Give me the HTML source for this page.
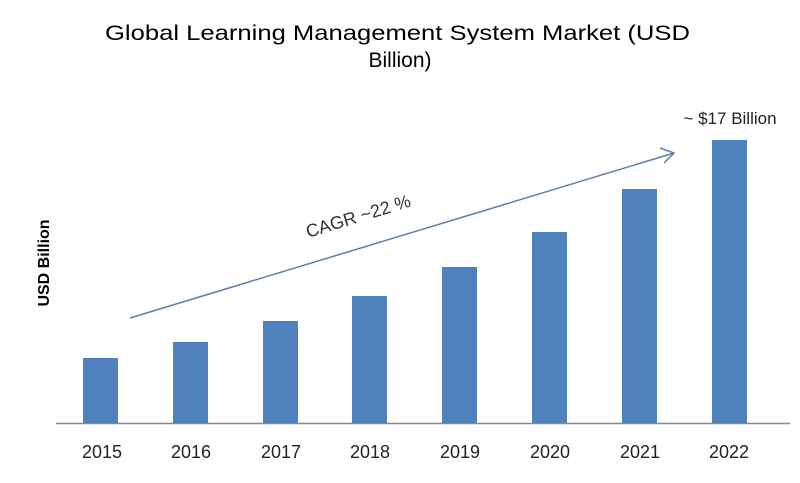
<!DOCTYPE html>
<html><head><style>body{margin:0;background:#fff}</style></head><body>
<svg width="800" height="478" xmlns="http://www.w3.org/2000/svg" font-family="Liberation Sans, sans-serif">
<rect width="800" height="478" fill="#fff"/>
<text x="105" y="40" font-size="21" textLength="585" lengthAdjust="spacingAndGlyphs" fill="#000">Global Learning Management System Market  (USD</text>
<text x="400" y="67" font-size="21" text-anchor="middle" fill="#000">Billion)</text>
<text transform="translate(49,263) rotate(-90)" font-size="16" font-weight="bold" text-anchor="middle">USD Billion</text>
<line x1="56" y1="423.5" x2="790" y2="423.5" stroke="#888" stroke-width="1.5"/>
<g fill="#4f81bd">
<rect x="83" y="358" width="35" height="65"/>
<rect x="173" y="342" width="35" height="81"/>
<rect x="263" y="321" width="35" height="102"/>
<rect x="352" y="296" width="35" height="127"/>
<rect x="442" y="267" width="35" height="156"/>
<rect x="532" y="232" width="35" height="191"/>
<rect x="622" y="189" width="35" height="234"/>
<rect x="712" y="140" width="35" height="283"/>
</g>
<g font-size="18" text-anchor="middle" fill="#222">
<text x="102" y="458">2015</text><text x="191" y="458">2016</text><text x="281" y="458">2017</text><text x="370" y="458">2018</text><text x="460" y="458">2019</text><text x="550" y="458">2020</text><text x="640" y="458">2021</text><text x="729" y="458">2022</text>
</g>
<text x="730" y="124" font-size="17" text-anchor="middle" fill="#222">~ $17 Billion</text>
<line x1="130" y1="318" x2="674" y2="153" stroke="#5a7fae" stroke-width="1.5"/>
<polyline points="660,148 674,153 664,163" fill="none" stroke="#5a7fae" stroke-width="1.5"/>
<text transform="translate(360,222) rotate(-17)" font-size="18" text-anchor="middle" fill="#333">CAGR ~22 %</text>
</svg>
</body></html>
